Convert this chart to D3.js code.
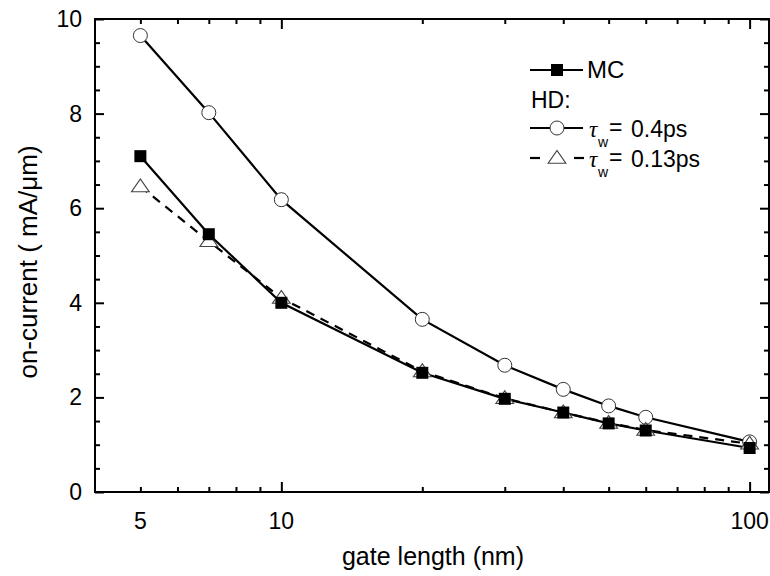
<!DOCTYPE html>
<html>
<head>
<meta charset="utf-8">
<script src="https://cdn.jsdelivr.net/npm/d3@7"></script>
<style>
  body { margin: 0; background: #fff; }
  svg text { font-family: "Liberation Sans", Arial, sans-serif; fill: #000; }
</style>
</head>
<body>
<svg id="chart" width="770" height="576"></svg>
<script>
// gate length (nm)
const gateLength = [5, 7, 10, 20, 30, 40, 50, 60, 100]
// on-current (mA/um)
const mc = [7.1, 5.45, 4.0, 2.52, 1.97, 1.68, 1.45, 1.30, 0.93]
const hd04 = [9.65, 8.02, 6.18, 3.65, 2.68, 2.17, 1.82, 1.58, 1.06]
const hd013 = [6.46, 5.30, 4.10, 2.55, 1.98, 1.68, 1.46, 1.31, 1.02]

const xLabels = [5, 10, 100]
const xMajor = [10, 100]
const xMinor = [5, 6, 7, 8, 9, 20, 30, 40, 50, 60, 70, 80, 90]
const yLabels = [0, 2, 4, 6, 8, 10]
const yMinor = [0.5, 1, 1.5, 2.5, 3, 3.5, 4.5, 5, 5.5, 6.5, 7, 7.5, 8.5, 9, 9.5]

let svg = d3.select("#chart")
let mLeft = 95, mRight = 769, mTop = 19, mBottom = 492

let x = d3.scaleLog().domain([4, 110]).range([mLeft, mRight])
let y = d3.scaleLinear().domain([0, 10]).range([mBottom, mTop])

const tickAxis = (axis, vals, size) => axis.tickValues(vals).tickSize(size).tickFormat("")

// ticks, all pointing inward
const addAxis = (ax, tr) => {
  let g = svg.append("g").attr("transform", tr).call(ax)
  g.select(".domain").remove()
  g.selectAll(".tick line").attr("stroke", "#000").attr("stroke-width", 2)
}
addAxis(tickAxis(d3.axisBottom(x), xMinor, -5), "translate(0," + mBottom + ")")
addAxis(tickAxis(d3.axisBottom(x), xMajor, -10), "translate(0," + mBottom + ")")
addAxis(tickAxis(d3.axisTop(x), xMinor, -5), "translate(0," + mTop + ")")
addAxis(tickAxis(d3.axisTop(x), xMajor, -10), "translate(0," + mTop + ")")
addAxis(tickAxis(d3.axisLeft(y), yMinor, -5), "translate(" + mLeft + ",0)")
addAxis(tickAxis(d3.axisLeft(y), yLabels, -9), "translate(" + mLeft + ",0)")
addAxis(tickAxis(d3.axisRight(y), yMinor, -5), "translate(" + mRight + ",0)")
addAxis(tickAxis(d3.axisRight(y), yLabels, -9), "translate(" + mRight + ",0)")

// frame
svg.append("rect")
  .attr("x", mLeft).attr("y", mTop)
  .attr("width", mRight - mLeft).attr("height", mBottom - mTop)
  .attr("fill", "none").attr("stroke", "#000").attr("stroke-width", 2)

// tick labels
svg.selectAll(".xl").data(xLabels).enter().append("text")
  .attr("x", d => x(d)).attr("y", 529)
  .attr("text-anchor", "middle").style("font-size", "23px")
  .text(d => d)

svg.selectAll(".yl").data(yLabels).enter().append("text")
  .attr("x", 82).attr("y", d => y(d) + 8)
  .attr("text-anchor", "end").style("font-size", "23px")
  .text(d => d)

// axis titles
svg.append("text")
  .attr("x", 433).attr("y", 565)
  .attr("text-anchor", "middle").style("font-size", "25px")
  .text("gate length (nm)")

svg.append("text")
  .attr("transform", "translate(37,262) rotate(-90)")
  .attr("text-anchor", "middle").style("font-size", "26px")
  .text("on-current ( mA/\u03bcm)")

const pts = (vals) => gateLength.map((g, i) => ({g: g, v: vals[i]}))
let line = d3.line().x(d => x(d.g)).y(d => y(d.v))

svg.append("path").datum(pts(hd04))
  .attr("d", line).attr("fill", "none").attr("stroke", "#000").attr("stroke-width", 2.2)

svg.append("path").datum(pts(hd013))
  .attr("d", line).attr("fill", "none").attr("stroke", "#000").attr("stroke-width", 2.2)
  .attr("stroke-dasharray", "9,7")

svg.append("path").datum(pts(mc))
  .attr("d", line).attr("fill", "none").attr("stroke", "#000").attr("stroke-width", 2.2)

let tri = d3.symbol().type(d3.symbolTriangle).size(95)
let sq = d3.symbol().type(d3.symbolSquare).size(144)

svg.selectAll(".c").data(pts(hd04)).enter().append("circle")
  .attr("cx", d => x(d.g)).attr("cy", d => y(d.v)).attr("r", 7)
  .attr("fill", "#fff").attr("stroke", "#333").attr("stroke-width", 1)

svg.selectAll(".t").data(pts(hd013)).enter().append("path")
  .attr("d", tri)
  .attr("transform", d => "translate(" + x(d.g) + "," + (y(d.v) + 1) + ") scale(1.2,1)")
  .attr("fill", "#fff").attr("stroke", "#444").attr("stroke-width", 1)

svg.selectAll(".s").data(pts(mc)).enter().append("path")
  .attr("d", sq)
  .attr("transform", d => "translate(" + x(d.g) + "," + y(d.v) + ")")
  .attr("fill", "#000")

// legend
let lg = svg.append("g")
lg.append("line").attr("x1", 530).attr("x2", 583).attr("y1", 70).attr("y2", 70)
  .attr("stroke", "#000").attr("stroke-width", 2.2)
lg.append("path").attr("d", sq).attr("transform", "translate(557,70)").attr("fill", "#000")
lg.append("text").attr("x", 587).attr("y", 78).style("font-size", "24px").text("MC")

lg.append("text").attr("x", 531).attr("y", 108).style("font-size", "23px").text("HD:")

lg.append("line").attr("x1", 530).attr("x2", 583).attr("y1", 128).attr("y2", 128)
  .attr("stroke", "#000").attr("stroke-width", 2.2)
lg.append("circle").attr("cx", 557).attr("cy", 128).attr("r", 7)
  .attr("fill", "#fff").attr("stroke", "#333").attr("stroke-width", 1)

lg.append("line").attr("x1", 530).attr("x2", 540).attr("y1", 158).attr("y2", 158)
  .attr("stroke", "#000").attr("stroke-width", 2.2)
lg.append("line").attr("x1", 574).attr("x2", 584).attr("y1", 158).attr("y2", 158)
  .attr("stroke", "#000").attr("stroke-width", 2.2)
lg.append("path").attr("d", tri).attr("transform", "translate(557,159) scale(1.2,1)")
  .attr("fill", "#fff").attr("stroke", "#444").attr("stroke-width", 1)

// tau with subscript w, then the value
const tauLabel = (yb, rest) => {
  lg.append("text").attr("x", 589).attr("y", yb).style("font-size", "23px")
    .style("font-family", "'Liberation Serif', serif").style("font-style", "italic")
    .text("\u03c4")
  lg.append("text").attr("x", 598).attr("y", yb + 10).style("font-size", "14px").text("w")
  lg.append("text").attr("x", 609).attr("y", yb - 2).style("font-size", "23px").text("=")
  lg.append("text").attr("x", 631).attr("y", yb).style("font-size", "23px").text(rest)
}
tauLabel(137, "0.4ps")
tauLabel(167, "0.13ps")
</script>
</body>
</html>
